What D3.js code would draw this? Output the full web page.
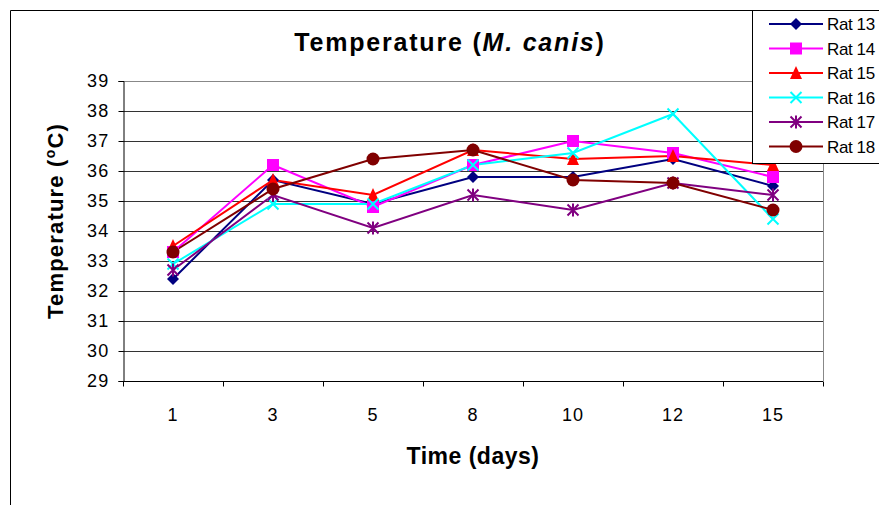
<!DOCTYPE html>
<html>
<head>
<meta charset="utf-8">
<script src="https://cdn.jsdelivr.net/npm/d3@7"></script>
<style>
  body { margin: 0; background: #fff; }
  svg { font-family: Arial, "Liberation Sans", sans-serif; }
</style>
</head>
<body>
<div class="chart"></div>
<script>
// data
let days = ["1", "3", "5", "8", "10", "12", "15"]
let rat13 = [32.4, 35.7, 34.9, 35.8, 35.8, 36.4, 35.5]
let rat14 = [33.3, 36.2, 34.8, 36.2, 37.0, 36.6, 35.8]
let rat15 = [33.5, 35.7, 35.2, 36.7, 36.4, 36.5, 36.2]
let rat16 = [32.9, 34.9, 34.9, 36.2, 36.6, 37.9, 34.4]
let rat17 = [32.7, 35.2, 34.1, 35.2, 34.7, 35.6, 35.2]
let rat18 = [33.3, 35.4, 36.4, 36.7, 35.7, 35.6, 34.7]
let seriesNames = ["Rat 13", "Rat 14", "Rat 15", "Rat 16", "Rat 17", "Rat 18"]
let yTicks = [29, 30, 31, 32, 33, 34, 35, 36, 37, 38, 39]

let series = [
  { name: seriesNames[0], values: rat13, color: "#000080", marker: "diamond" },
  { name: seriesNames[1], values: rat14, color: "#ff00ff", marker: "square" },
  { name: seriesNames[2], values: rat15, color: "#ff0000", marker: "triangle" },
  { name: seriesNames[3], values: rat16, color: "#00ffff", marker: "x" },
  { name: seriesNames[4], values: rat17, color: "#800080", marker: "star" },
  { name: seriesNames[5], values: rat18, color: "#800000", marker: "circle" },
]

let W = 879, H = 505
let margin = { top: 81, right: 56, bottom: 124, left: 123 }
let width = W - margin.left - margin.right
let height = H - margin.top - margin.bottom

let svg = d3.select('.chart')
  .append('svg')
    .attr('width', W)
    .attr('height', H)

// outer chart border (left + top only are visible)
svg.append('path')
  .attr('d', `M10.5,${H} L10.5,10.5 L${W},10.5`)
  .style('fill', 'none')
  .style('stroke', '#000')

let g = svg.append('g')
  .attr('transform', `translate(${margin.left}, ${margin.top})`)

let xScale = d3.scaleBand()
  .domain(days)
  .range([0, width])
  .padding(0)

let yScale = d3.scaleLinear()
  .domain([29, 39])
  .range([height, 0])

// gridlines
g.selectAll('.grid')
  .data(yTicks.slice(1))
  .enter()
  .append('line')
    .attr('x1', 0)
    .attr('x2', width)
    .attr('y1', d => Math.round(yScale(d)) + 0.5)
    .attr('y2', d => Math.round(yScale(d)) + 0.5)
    .style('stroke', d => d === 39 ? '#888' : '#333')
    .style('stroke-width', 1)

// right plot border
g.append('line')
  .attr('x1', width + 0.5).attr('x2', width + 0.5)
  .attr('y1', 0).attr('y2', height)
  .style('stroke', '#888')

// y axis
let yAxis = d3.axisLeft(yScale)
  .tickValues(yTicks)
  .tickSize(5)
  .tickPadding(9)
  .tickFormat(d3.format('d'))
let ya = g.append('g')
  .attr('transform', 'translate(0.5, 0)')
  .call(yAxis)
ya.select('.domain').attr('stroke', '#000')
ya.selectAll('text')
  .style('font-size', '18px')
  .style('letter-spacing', '1.2px')
  .style('fill', '#000')

// x axis: ticks on band boundaries
let xa = g.append('g')
  .attr('transform', `translate(0, ${height + 0.5})`)
xa.append('line')
  .attr('x1', 0).attr('x2', width)
  .style('stroke', '#000')
let bounds = days.map(d => xScale(d)).concat([width])
xa.selectAll('.tick')
  .data(bounds)
  .enter()
  .append('line')
    .attr('x1', d => Math.round(d) + 0.5)
    .attr('x2', d => Math.round(d) + 0.5)
    .attr('y1', 0)
    .attr('y2', 5)
    .style('stroke', '#000')
xa.selectAll('.lab')
  .data(days)
  .enter()
  .append('text')
    .attr('x', d => xScale(d) + xScale.bandwidth() / 2)
    .attr('y', 39)
    .attr('text-anchor', 'middle')
    .style('font-size', '18px')
    .style('letter-spacing', '1px')
    .text(d => d)

// marker shapes
function markerPath(type, s) {
  let h = s / 2
  if (type === 'diamond') return `M0,${-h}L${h},0L0,${h}L${-h},0Z`
  if (type === 'square') return `M${-h},${-h}H${h}V${h}H${-h}Z`
  if (type === 'triangle') return `M0,${-h - 1}L${h},${h}L${-h},${h}Z`
  if (type === 'x') return `M${-h},${-h}L${h},${h}M${-h},${h}L${h},${-h}`
  if (type === 'star') return `M${-h},${-h}L${h},${h}M${-h},${h}L${h},${-h}M0,${-h - 1}V${h + 1}`
  return null
}
function drawMarker(sel, s) {
  let type = s.marker
  if (type === 'circle') {
    sel.append('circle').attr('r', 6.5).style('fill', s.color)
  } else {
    let size = { diamond: 12, square: 12, triangle: 12, x: 11, star: 11 }[type]
    let stroked = type === 'x' || type === 'star'
    sel.append('path')
      .attr('d', markerPath(type, size))
      .style('fill', stroked ? 'none' : s.color)
      .style('stroke', stroked ? s.color : 'none')
      .style('stroke-width', stroked ? 2 : 0)
  }
}

let line = d3.line()
  .x((d, i) => xScale(days[i]) + xScale.bandwidth() / 2)
  .y(d => yScale(d))

series.forEach(s => {
  g.append('path')
    .datum(s.values)
    .attr('d', line)
    .style('fill', 'none')
    .style('stroke', s.color)
    .style('stroke-width', 2)
})
series.forEach(s => {
  g.selectAll(null)
    .data(s.values)
    .enter()
    .append('g')
      .attr('transform', (d, i) => `translate(${xScale(days[i]) + xScale.bandwidth() / 2}, ${yScale(d)})`)
      .each(function () { drawMarker(d3.select(this), s) })
})

// title
let title = svg.append('text')
  .attr('x', 450)
  .attr('y', 51)
  .attr('text-anchor', 'middle')
  .style('font-size', '25px')
  .style('letter-spacing', '1.8px')
  .style('font-weight', 'bold')
title.append('tspan').text('Temperature (')
title.append('tspan').style('font-style', 'italic').text('M. canis')
title.append('tspan').text(')')

// axis titles
let yt = svg.append('text')
  .attr('transform', 'translate(63, 221) rotate(-90)')
  .attr('text-anchor', 'middle')
  .style('font-size', '22px')
  .style('letter-spacing', '1.2px')
  .style('font-weight', 'bold')
yt.append('tspan').text('Temperature (')
yt.append('tspan').attr('dy', -8).style('font-size', '14px').text('o')
yt.append('tspan').attr('dy', 8).text('C)')

svg.append('text')
  .attr('x', 473)
  .attr('y', 464)
  .attr('text-anchor', 'middle')
  .style('font-size', '23px')
  .style('letter-spacing', '0.5px')
  .style('font-weight', 'bold')
  .text('Time (days)')

// legend
let lg = svg.append('g').attr('transform', 'translate(752, 10)')
lg.append('rect')
  .attr('x', 0.5).attr('y', 0.5)
  .attr('width', 140).attr('height', 153)
  .style('fill', '#fff')
  .style('stroke', '#000')
let rows = lg.selectAll('.row')
  .data(series)
  .enter()
  .append('g')
    .attr('transform', (d, i) => `translate(0, ${14 + i * 24.5})`)
rows.append('line')
  .attr('x1', 17).attr('x2', 71)
  .style('stroke', d => d.color)
  .style('stroke-width', 2)
rows.append('g')
  .attr('transform', 'translate(44, 0)')
  .each(function (d) { drawMarker(d3.select(this), d) })
rows.append('text')
  .attr('x', 75)
  .attr('y', 6)
  .style('font-size', '17px')
  .style('letter-spacing', '-0.4px')
  .text(d => d.name)
</script>
</body>
</html>
